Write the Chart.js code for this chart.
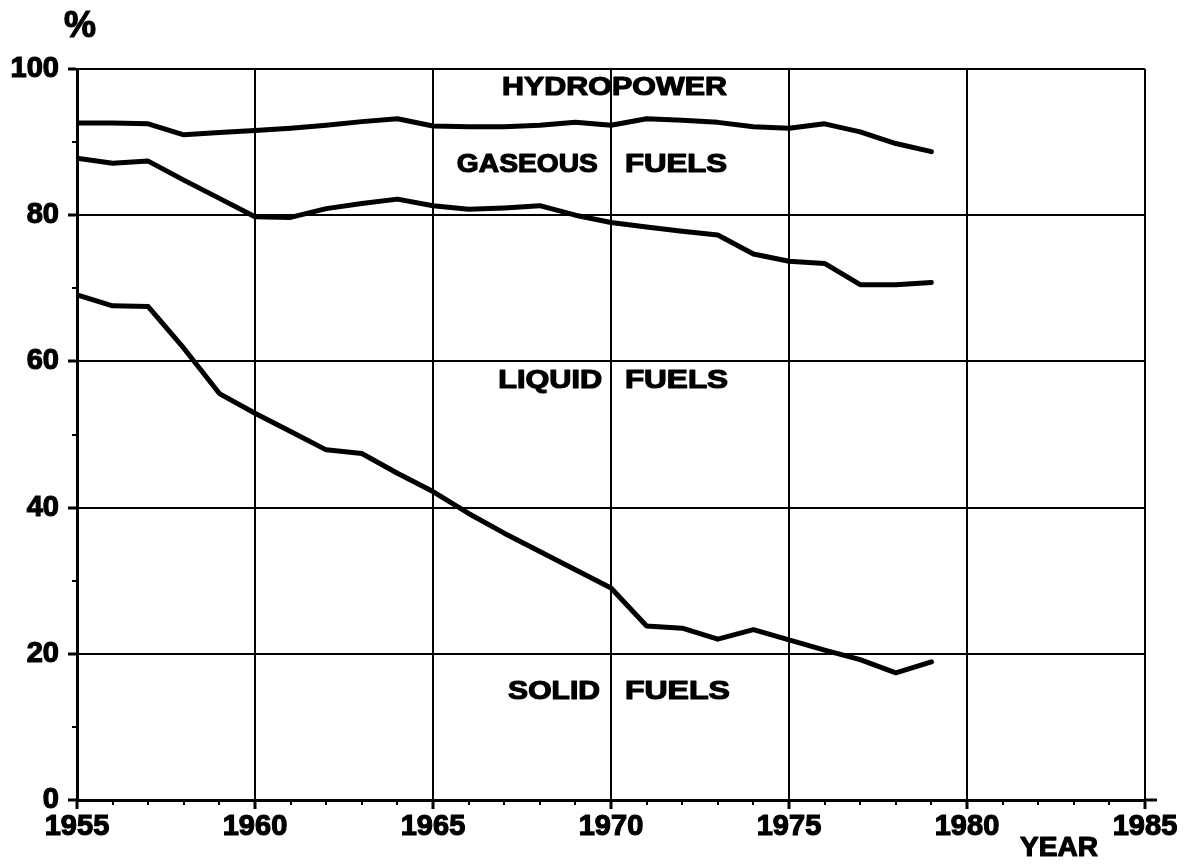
<!DOCTYPE html>
<html>
<head>
<meta charset="utf-8">
<script src="https://cdn.jsdelivr.net/npm/chart.js@4.4.1/dist/chart.umd.min.js"></script>
<style>
  html, body { margin: 0; padding: 0; background: #fff; }
  #wrap { width: 1188px; height: 865px; position: relative; }
</style>
</head>
<body>
<div id="wrap"><canvas id="c" width="1188" height="865"></canvas></div>
<script>
// ---- data ----
const years = [1955, 1956, 1957, 1958, 1959, 1960, 1961, 1962, 1963, 1964, 1965, 1966, 1967,
               1968, 1969, 1970, 1971, 1972, 1973, 1974, 1975, 1976, 1977, 1978, 1979];
// upper boundary of gaseous fuels (hydropower above)
const gasTop = [92.6, 92.6, 92.5, 91.0, 91.3, 91.6, 91.9, 92.3, 92.8, 93.2, 92.2, 92.1, 92.1,
                92.3, 92.7, 92.3, 93.2, 93.0, 92.7, 92.1, 91.9, 92.5, 91.4, 89.8, 88.7];
// upper boundary of liquid fuels
const liquidTop = [87.8, 87.1, 87.4, 84.8, 82.3, 79.8, 79.7, 80.9, 81.6, 82.2, 81.3, 80.8, 81.0,
                   81.3, 80.0, 79.0, 78.4, 77.8, 77.3, 74.7, 73.7, 73.4, 70.5, 70.5, 70.8];
// upper boundary of solid fuels
const solidTop = [69.1, 67.6, 67.5, 61.8, 55.6, 52.9, 50.4, 47.9, 47.4, 44.7, 42.2, 39.2, 36.5,
                  34.0, 31.5, 29.0, 23.8, 23.5, 22.0, 23.3, 21.9, 20.5, 19.2, 17.4, 18.9];
const xTicks = [1955, 1960, 1965, 1970, 1975, 1980, 1985];
const yTicks = [0, 20, 40, 60, 80, 100];
const regionNames = ['HYDROPOWER', 'GASEOUS FUELS', 'LIQUID FUELS', 'SOLID FUELS'];
const yUnit = '%';
const xTitle = 'YEAR';

const toPts = arr => years.map((y, i) => ({ x: y, y: arr[i] }));

const FAM = '"Liberation Sans", Arial, sans-serif';

function boldText(ctx, text, x, y) {
  ctx.fillText(text, x, y);
  ctx.strokeText(text, x, y);
}

const decorPlugin = {
  id: 'decor',
  beforeDraw(chart) {
    const ctx = chart.ctx;
    ctx.save();
    ctx.fillStyle = '#fff';
    ctx.fillRect(0, 0, chart.width, chart.height);
    ctx.restore();
  },
  afterDraw(chart) {
    const ctx = chart.ctx;
    const xs = chart.scales.x, ys = chart.scales.y;
    const a = chart.chartArea;
    ctx.save();
    ctx.strokeStyle = '#000';
    ctx.lineWidth = 2;
    // minor x ticks (every year)
    for (let yr = xs.min + 1; yr < xs.max; yr++) {
      if (yr % 5 === 0) continue;
      const px = Math.round(xs.getPixelForValue(yr));
      ctx.beginPath();
      ctx.moveTo(px, a.bottom);
      ctx.lineTo(px, a.bottom + 5);
      ctx.stroke();
    }
    // minor y ticks (every 10)
    for (let v = 10; v < 100; v += 20) {
      const py = Math.round(ys.getPixelForValue(v));
      ctx.beginPath();
      ctx.moveTo(a.left - 5, py);
      ctx.lineTo(a.left, py);
      ctx.stroke();
    }
    // extend x axis a bit beyond the right border
    ctx.lineWidth = 3;
    ctx.beginPath();
    ctx.moveTo(a.right, a.bottom);
    ctx.lineTo(a.right + 12, a.bottom);
    ctx.stroke();

    // region labels, each word stretched to its span like the original lettering
    ctx.fillStyle = '#000';
    ctx.strokeStyle = '#000';
    ctx.lineWidth = 1.2;
    ctx.lineJoin = 'round';
    ctx.font = 'bold 26px ' + FAM;
    ctx.textBaseline = 'middle';
    ctx.textAlign = 'left';
    const spans = [
      { v: 97.4, words: [[1966.94, 1973.26]] },
      { v: 86.9, words: [[1965.67, 1969.63], [1970.39, 1973.26]] },
      { v: 57.3, words: [[1966.83, 1969.75], [1970.39, 1973.29]] },
      { v: 14.8, words: [[1967.11, 1969.69], [1970.39, 1973.34]] }
    ];
    regionNames.forEach((name, i) => {
      const s = spans[i];
      const parts = s.words.length === 1 ? [name] : name.split(' ');
      const py = ys.getPixelForValue(s.v);
      parts.forEach((word, j) => {
        const x0 = xs.getPixelForValue(s.words[j][0]);
        const x1 = xs.getPixelForValue(s.words[j][1]);
        const w = ctx.measureText(word).width;
        ctx.save();
        ctx.translate(x0, py);
        ctx.scale((x1 - x0) / w, 1);
        boldText(ctx, word, 0, 0);
        ctx.restore();
      });
    });

    // axis unit and title
    ctx.font = 'bold 36px ' + FAM;
    ctx.textAlign = 'center';
    boldText(ctx, yUnit, a.left + 3, 27);
    ctx.save();
    ctx.font = 'bold 28px ' + FAM;
    const tw = ctx.measureText(xTitle).width;
    ctx.translate(1059, 848);
    ctx.scale(78 / tw, 1);
    boldText(ctx, xTitle, 0, 0);
    ctx.restore();
    ctx.restore();
  }
};

const lineStyle = {
  borderColor: '#000',
  borderWidth: 5,
  pointRadius: 0,
  tension: 0,
  fill: false,
  borderJoinStyle: 'round',
  borderCapStyle: 'round'
};

new Chart(document.getElementById('c'), {
  type: 'line',
  data: {
    datasets: [
      Object.assign({ label: 'Gaseous fuels (top)', data: toPts(gasTop) }, lineStyle),
      Object.assign({ label: 'Liquid fuels (top)', data: toPts(liquidTop) }, lineStyle),
      Object.assign({ label: 'Solid fuels (top)', data: toPts(solidTop) }, lineStyle)
    ]
  },
  options: {
    responsive: false,
    animation: false,
    events: [],
    layout: { padding: { top: 69, right: 43, left: 0, bottom: 0 } },
    plugins: { legend: { display: false }, tooltip: { enabled: false } },
    scales: {
      x: {
        type: 'linear',
        min: xTicks[0],
        max: xTicks[xTicks.length - 1],
        afterFit(s) { s.height = 65; },
        afterBuildTicks(s) { s.ticks = xTicks.map(v => ({ value: v })); },
        ticks: {
          color: '#000',
          padding: 1,
          maxRotation: 0,
          autoSkip: false,
          textStrokeColor: '#000',
          textStrokeWidth: 1.2,
          font: { family: FAM, size: 29, weight: 'bold' },
          callback: v => String(v)
        },
        grid: { color: '#000', lineWidth: 2, tickLength: 9, tickWidth: 3, tickColor: '#000' },
        border: { display: true, color: '#000', width: 3 }
      },
      y: {
        type: 'linear',
        min: yTicks[0],
        max: yTicks[yTicks.length - 1],
        afterFit(s) { s.width = 77; },
        afterBuildTicks(s) { s.ticks = yTicks.map(v => ({ value: v })); },
        ticks: {
          color: '#000',
          padding: 9,
          autoSkip: false,
          textStrokeColor: '#000',
          textStrokeWidth: 1.2,
          font: { family: FAM, size: 29, weight: 'bold' },
          callback: v => String(v)
        },
        grid: { color: '#000', lineWidth: 2, tickLength: 9, tickWidth: 3, tickColor: '#000' },
        border: { display: true, color: '#000', width: 3 }
      }
    }
  },
  plugins: [decorPlugin]
});
</script>
</body>
</html>
